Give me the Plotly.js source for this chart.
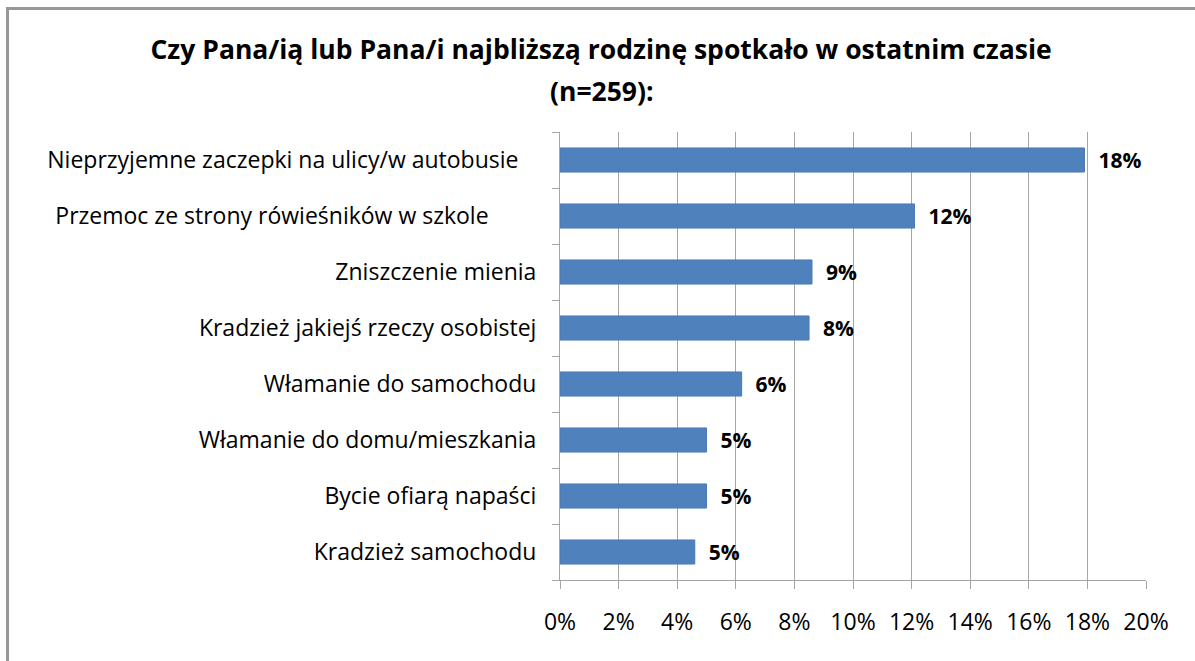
<!DOCTYPE html>
<html>
<head>
<meta charset="utf-8">
<script src="https://cdn.plot.ly/plotly-3.0.1.min.js"></script>
<style>
html,body{margin:0;padding:0;background:#fff;}
#chart{width:1195px;height:661px;position:absolute;left:0;top:0;}
#frame{position:absolute;left:6px;top:7px;width:1195px;height:660px;border-left:3px solid #979797;border-top:3px solid #979797;pointer-events:none;}
</style>
</head>
<body>
<div id="chart"></div>
<div id="frame"></div>
<script>
const categories = [
  "Nieprzyjemne zaczepki na ulicy/w autobusie",
  "Przemoc ze strony rówieśników w szkole",
  "Zniszczenie mienia",
  "Kradzież jakiejś rzeczy osobistej",
  "Włamanie do samochodu",
  "Włamanie do domu/mieszkania",
  "Bycie ofiarą napaści",
  "Kradzież samochodu"
];
const categoryPadding = [3, 8, 0, 0, 0, 0, 0, 0];
const values = [0.179, 0.121, 0.086, 0.085, 0.062, 0.050, 0.050, 0.046];
const valueLabels = ["18%", "12%", "9%", "8%", "6%", "5%", "5%", "5%"];
const tickVals = [0, 0.02, 0.04, 0.06, 0.08, 0.10, 0.12, 0.14, 0.16, 0.18, 0.20];
const tickLabels = ["0%", "2%", "4%", "6%", "8%", "10%", "12%", "14%", "16%", "18%", "20%"];
const titleLine1 = "Czy Pana/ią lub Pana/i najbliższą rodzinę spotkało w ostatnim czasie";
const titleLine2 = "(n=259):";

const font = "'Open Sans', Lato, sans-serif";

const trace = {
  type: "bar",
  orientation: "h",
  x: values,
  y: categories,
  width: 0.43,
  marker: {color: "#4f81bd", line: {color: "#4a7ab5", width: 1}},
  text: valueLabels.map(t => "\u00a0\u00a0<b>" + t + "</b>"),
  textposition: "outside",
  constraintext: "none",
  textfont: {family: font, size: 21, color: "#000"},
  cliponaxis: false,
  hoverinfo: "none"
};

const layout = {
  width: 1195,
  height: 661,
  margin: {l: 560, r: 49, t: 132, b: 81, pad: 0},
  paper_bgcolor: "#fff",
  plot_bgcolor: "#fff",
  showlegend: false,
  font: {family: font, size: 23, color: "#000"},
  title: {
    text: "<b>" + titleLine1 + "</b>",
    font: {family: font, size: 26.5, color: "#000"},
    x: 0.503, xanchor: "center", xref: "container",
    y: 1 - 50/661, yanchor: "middle", yref: "container"
  },
  annotations: [{
    text: "<b>" + titleLine2 + "</b>",
    xref: "paper", yref: "paper",
    x: (602 - 560) / 586, y: (580 - 91) / 448,
    xanchor: "center", yanchor: "middle",
    showarrow: false,
    font: {family: font, size: 26.5, color: "#000"}
  }],
  xaxis: {
    range: [0, 0.20],
    tickvals: tickVals,
    ticktext: tickLabels,
    showgrid: true,
    gridcolor: "#a6a6a6",
    gridwidth: 1,
    showline: true,
    linecolor: "#a6a6a6",
    linewidth: 1,
    ticks: "outside",
    ticklen: 8,
    tickcolor: "#a6a6a6",
    ticklabelstandoff: 13,
    tickfont: {family: font, size: 23, color: "#000"},
    zeroline: false,
    fixedrange: true
  },
  yaxis: {
    autorange: "reversed",
    tickvals: categories,
    ticktext: categories.map((c, i) => c + "\u00a0".repeat(categoryPadding[i])),
    showline: true,
    linecolor: "#a6a6a6",
    linewidth: 1,
    ticks: "outside",
    tickson: "boundaries",
    ticklen: 7,
    tickcolor: "#a6a6a6",
    ticklabelstandoff: 18,
    tickfont: {family: font, size: 23, color: "#000"},
    showgrid: false,
    zeroline: false,
    fixedrange: true
  },
  bargap: 0.57
};

Plotly.newPlot("chart", [trace], layout, {displayModeBar: false, staticPlot: true});
</script>
</body>
</html>
